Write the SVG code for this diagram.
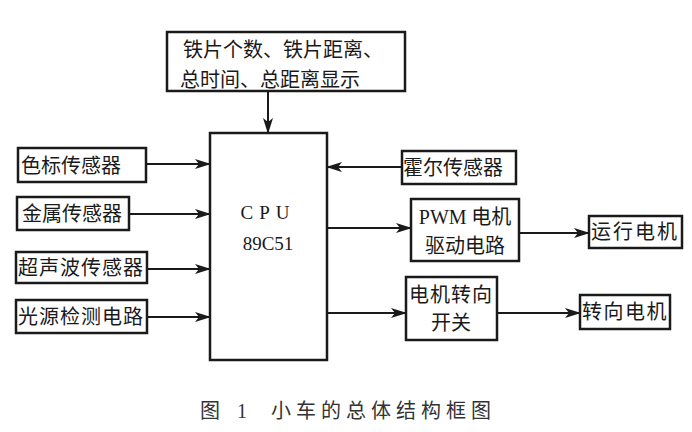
<svg xmlns="http://www.w3.org/2000/svg" width="692" height="432" viewBox="0 0 692 432">
<style>
.box{fill:#fff;stroke:#1a1a1a;stroke-width:2.5}
.t{font-family:"Noto Sans CJK SC","Noto Sans",sans-serif;font-size:20px;fill:#1a1a1a}
.s{font-family:"Liberation Serif","Noto Sans CJK SC",serif;font-size:19px;fill:#1a1a1a}
.ln{stroke:#1a1a1a;stroke-width:2;fill:none;marker-end:url(#ah)}
.cap{font-family:"Liberation Serif","Noto Sans CJK SC",serif;font-size:20px;fill:#333}
</style>
<defs>
<marker id="ah" markerWidth="16" markerHeight="10" refX="15" refY="5" orient="auto" markerUnits="userSpaceOnUse">
<path d="M0,0 L16,5 L0,10 L4,5 z" fill="#1a1a1a"/>
</marker>
</defs>
<rect width="692" height="432" fill="#fff"/>
<g id="connectors">
<line class="ln" x1="268" y1="91" x2="268" y2="133"/>
<line class="ln" x1="146" y1="164" x2="210" y2="164"/>
<line class="ln" x1="129" y1="214" x2="210" y2="214"/>
<line class="ln" x1="147" y1="269" x2="210" y2="269"/>
<line class="ln" x1="147" y1="317" x2="210" y2="317"/>
<line class="ln" x1="402" y1="167" x2="327" y2="167"/>
<line class="ln" x1="327" y1="228" x2="411" y2="228"/>
<line class="ln" x1="507" y1="233" x2="589" y2="233"/>
<line class="ln" x1="327" y1="313" x2="406" y2="313"/>
<line class="ln" x1="497" y1="313" x2="580" y2="313"/>
</g>
<g id="display">
<rect class="box" x="167" y="32" width="238" height="59"/>
<text class="t" x="183" y="57">铁片个数、铁片距离、</text>
<text class="t" x="180" y="87">总时间、总距离显示</text>
</g>
<g id="cpu">
<rect class="box" x="210" y="133" width="117" height="227"/>
<text class="s" x="268" y="219" text-anchor="middle" letter-spacing="6">CPU</text>
<text class="s" x="268" y="250" text-anchor="middle">89C51</text>
</g>
<g id="color">
<rect class="box" x="18" y="148" width="128" height="34"/>
<text class="t" x="21" y="173" font-size="22">色标传感器</text>
</g>
<g id="metal">
<rect class="box" x="17" y="197" width="112" height="33"/>
<text class="t" x="22" y="221">金属传感器</text>
</g>
<g id="ultra">
<rect class="box" x="16" y="252" width="131" height="31"/>
<text class="t" x="18" y="275" letter-spacing="1">超声波传感器</text>
</g>
<g id="light">
<rect class="box" x="16" y="300" width="131" height="33"/>
<text class="t" x="18" y="324" letter-spacing="1">光源检测电路</text>
</g>
<g id="hall">
<rect class="box" x="402" y="151" width="114" height="33"/>
<text class="t" x="403" y="175">霍尔传感器</text>
</g>
<g id="pwm">
<rect class="box" x="411" y="199" width="108" height="62"/>
<text class="t" x="465" y="224" text-anchor="middle"><tspan font-family="Liberation Serif,serif">PWM</tspan> 电机</text>
<text class="t" x="465" y="253" text-anchor="middle">驱动电路</text>
</g>
<g id="runmotor">
<rect class="box" x="589" y="216" width="93" height="32"/>
<text class="t" x="591" y="239" letter-spacing="2">运行电机</text>
</g>
<g id="switch">
<rect class="box" x="406" y="277" width="91" height="63"/>
<text class="t" x="451" y="302" text-anchor="middle" letter-spacing="1">电机转向</text>
<text class="t" x="451" y="330" text-anchor="middle">开关</text>
</g>
<g id="steermotor">
<rect class="box" x="580" y="295" width="90" height="34"/>
<text class="t" x="582" y="319" letter-spacing="1.5">转向电机</text>
</g>
<g id="caption" class="cap">
<text x="200" y="418" letter-spacing="6">图 1</text>
<text x="271" y="418" letter-spacing="5">小车的总体结构框图</text>
</g>
</svg>
